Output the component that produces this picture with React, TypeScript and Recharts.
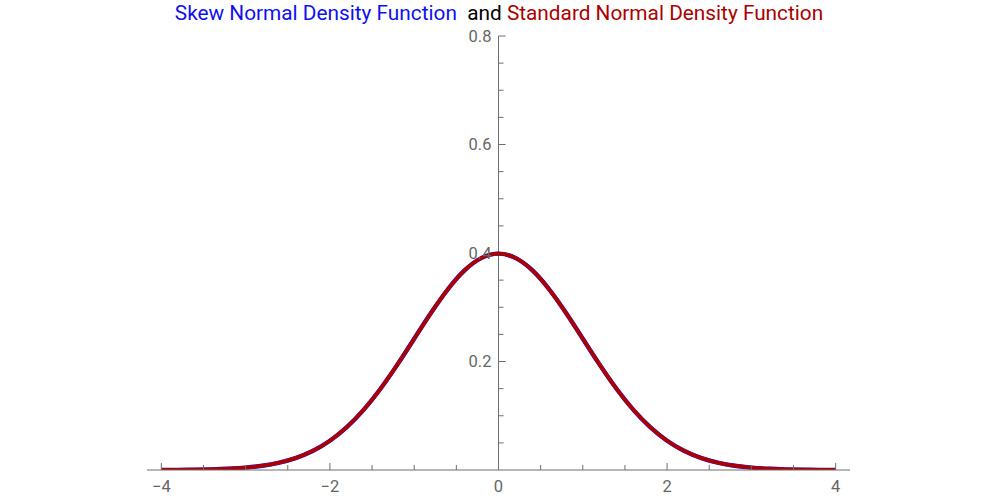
import React from 'react';
import { LineChart, Line, XAxis, YAxis, ReferenceLine, ReferenceDot } from 'recharts';

const xValues = [-4, -3.8, -3.6, -3.4, -3.2, -3, -2.8, -2.6, -2.4, -2.2, -2, -1.8, -1.6, -1.4, -1.2, -1, -0.8, -0.6, -0.4, -0.2, 0, 0.2, 0.4, 0.6, 0.8, 1, 1.2, 1.4, 1.6, 1.8, 2, 2.2, 2.4, 2.6, 2.8, 3, 3.2, 3.4, 3.6, 3.8, 4];
const skewNormal = [0.0001, 0.0003, 0.0006, 0.0012, 0.0024, 0.0044, 0.0079, 0.0136, 0.0224, 0.0355, 0.054, 0.079, 0.1109, 0.1497, 0.1942, 0.242, 0.2897, 0.3332, 0.3683, 0.391, 0.3989, 0.391, 0.3683, 0.3332, 0.2897, 0.242, 0.1942, 0.1497, 0.1109, 0.079, 0.054, 0.0355, 0.0224, 0.0136, 0.0079, 0.0044, 0.0024, 0.0012, 0.0006, 0.0003, 0.0001];
const standardNormal = [0.0001, 0.0003, 0.0006, 0.0012, 0.0024, 0.0044, 0.0079, 0.0136, 0.0224, 0.0355, 0.054, 0.079, 0.1109, 0.1497, 0.1942, 0.242, 0.2897, 0.3332, 0.3683, 0.391, 0.3989, 0.391, 0.3683, 0.3332, 0.2897, 0.242, 0.1942, 0.1497, 0.1109, 0.079, 0.054, 0.0355, 0.0224, 0.0136, 0.0079, 0.0044, 0.0024, 0.0012, 0.0006, 0.0003, 0.0001];

const xTicks = [-4, -3.5, -3, -2.5, -2, -1.5, -1, -0.5, 0, 0.5, 1, 1.5, 2, 2.5, 3, 3.5, 4];
const xMajorTicks = [-4, -2, 0, 2, 4];
const xTickLabels = ['\u22124', '\u22122', '0', '2', '4'];
const yTicks = [0.05, 0.1, 0.15, 0.2, 0.25, 0.3, 0.35, 0.4, 0.45, 0.5, 0.55, 0.6, 0.65, 0.7, 0.75, 0.8];
const yMajorTicks = [0.2, 0.4, 0.6, 0.8];
const yTickLabels = ['0.2', '0.4', '0.6', '0.8'];

const data = xValues.map((x, i) => ({ x, skew: skewNormal[i], std: standardNormal[i] }));

const AXIS = '#6e6e6e';
const LABEL = '#666666';
const BLUE = '#1a1aff';
const RED = '#aa0000';

const XTick = (props: any) => {
  const { x, y, payload } = props;
  const v = payload.value;
  const idx = xMajorTicks.indexOf(v);
  const major = idx >= 0;
  return (
    <g>
      <line x1={x} x2={x} y1={y} y2={y - (major ? 7 : 5)} stroke={AXIS} strokeWidth={1} />
      {major && (
        <text x={x} y={y + 22} textAnchor="middle" fill={LABEL} fontSize={16.5} fontFamily="Roboto">
          {xTickLabels[idx]}
        </text>
      )}
    </g>
  );
};

export default function App() {
  return (
    <div style={{ position: 'absolute', left: 0, top: 0, width: 1000, height: 500, background: '#fff' }}>
      <div
        style={{
          position: 'absolute',
          left: 0,
          top: 0,
          width: 998,
          textAlign: 'center',
          fontFamily: 'Roboto',
          fontSize: 20.8,
          whiteSpace: 'pre',
          lineHeight: '26px',
        }}
      >
        <span style={{ color: '#1010ee' }}>Skew Normal Density Function</span>
        <span style={{ color: '#000' }}>  and </span>
        <span style={{ color: '#aa0000' }}>Standard Normal Density Function</span>
      </div>
      <LineChart
        width={1000}
        height={500}
        data={data}
        margin={{ top: 36, right: 150, bottom: 0, left: 147 }}
        style={{ position: 'absolute', left: 0, top: 0 }}
      >
        <XAxis
          dataKey="x"
          type="number"
          domain={[-4.17, 4.17]}
          ticks={xTicks}
          tick={<XTick />}
          tickLine={false}
          tickSize={0}
          tickMargin={0}
          height={30}
          stroke={AXIS}
          interval={0}
          allowDataOverflow
        />
        <YAxis type="number" domain={[0, 0.8]} hide width={0} allowDataOverflow />
        <ReferenceLine segment={[{ x: 0, y: 0 }, { x: 0, y: 0.8 }]} stroke={AXIS} strokeWidth={1} />
        {yTicks.map((v) => (
          <ReferenceLine
            key={'yt' + v}
            segment={[{ x: 0, y: v }, { x: yMajorTicks.includes(v) ? 0.085 : 0.06, y: v }]}
            stroke={AXIS}
            strokeWidth={1}
          />
        ))}
        {yMajorTicks.map((v, i) => (
          <ReferenceDot
            key={'yl' + v}
            x={0}
            y={v}
            r={0}
            fill="none"
            stroke="none"
            label={{ value: yTickLabels[i], position: 'left', offset: 7, fill: LABEL, fontSize: 16.5, fontFamily: 'Roboto' }}
          />
        ))}
        <Line type="natural" dataKey="skew" stroke={BLUE} strokeWidth={4.4} dot={false} isAnimationActive={false} />
        <Line type="natural" dataKey="std" stroke={RED} strokeWidth={3.8} dot={false} isAnimationActive={false} />
      </LineChart>
    </div>
  );
}
